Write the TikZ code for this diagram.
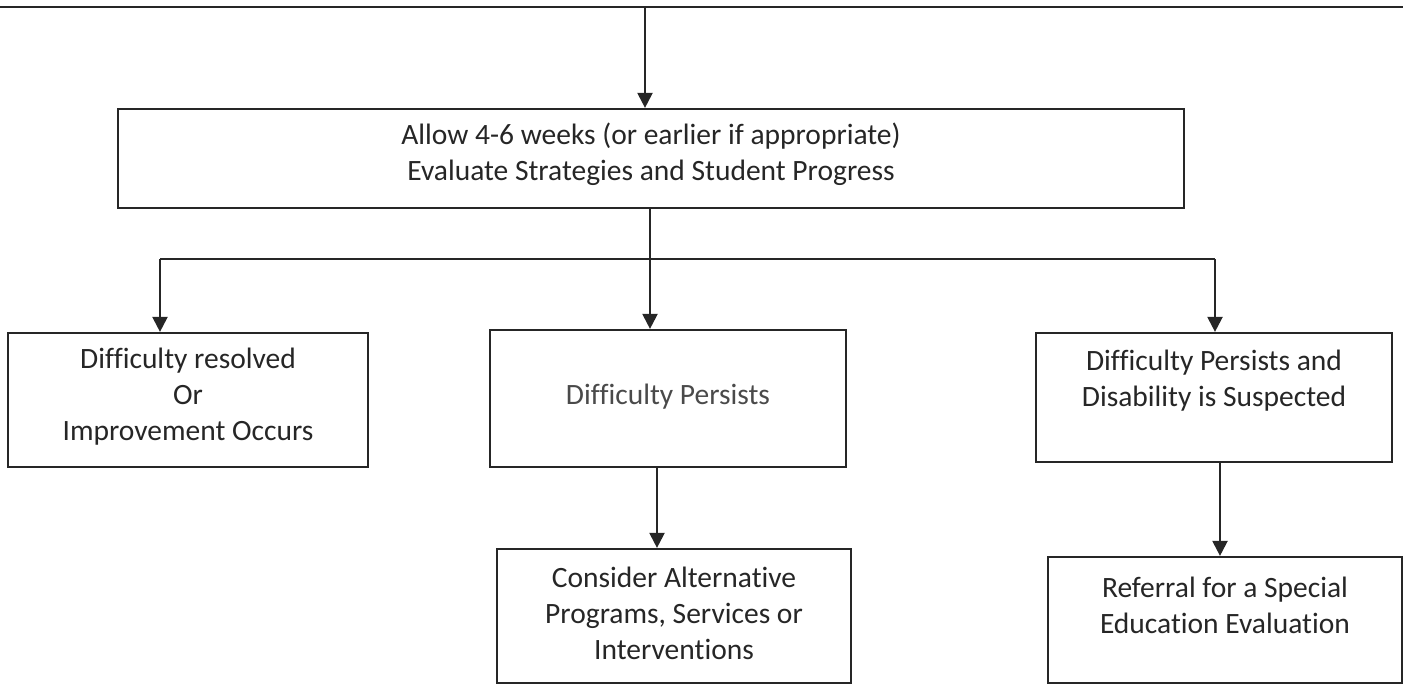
\documentclass[tikz,border=0pt]{standalone}
\usepackage{fontspec}
\setmainfont[Ligatures={NoCommon}]{Carlito}
\usetikzlibrary{arrows.meta}
\definecolor{ink}{HTML}{262626}
\definecolor{softink}{HTML}{4A4A4A}
\tikzset{
  box/.style={draw=ink, line width=2.2pt, rectangle, inner sep=0pt},
  txt/.style={align=center, text=ink, font=\fontsize{29.5}{36}\selectfont, inner sep=0pt},
  conn/.style={draw=ink, line width=2.2pt},
  arr/.style={conn, -{Triangle[width=15pt,length=15pt]}},
}
\begin{document}
\begin{tikzpicture}[x=1pt,y=-1pt]
\useasboundingbox (0,0) rectangle (1403,685);
% boxes
\node[box, minimum width=1066pt, minimum height=99pt] (main) at (651,158.5) {};
\node[box, minimum width=360pt, minimum height=134pt] (b1) at (188,400) {};
\node[box, minimum width=356pt, minimum height=137pt] (b2) at (668,398.5) {};
\node[box, minimum width=356pt, minimum height=129pt] (b3) at (1214,397.5) {};
\node[box, minimum width=354pt, minimum height=134pt] (b4) at (674,616) {};
\node[box, minimum width=354pt, minimum height=126pt] (b5) at (1225,620) {};
% texts
\node[txt] (t0) at (651,154) {Allow 4-6 weeks (or earlier if appropriate)\\Evaluate Strategies and Student Progress};
\node[txt] (t1) at (188,397) {Difficulty resolved\\Or\\Improvement Occurs};
\node[txt, text=softink] (t2) at (668,397) {Difficulty Persists};
\node[txt] (t3) at (1214,381) {Difficulty Persists and\\Disability is Suspected};
\node[txt] (t4) at (674,613) {Consider Alternative\\Programs, Services or\\Interventions};
\node[txt] (t5) at (1225,605) {Referral for a Special\\Education Evaluation};
% connectors
\coordinate (topL) at (0,7);
\coordinate (topR) at (1403,7);
\coordinate (top) at (645,7);
\coordinate (split) at (650,259);
\coordinate (leftc) at (160,259);
\coordinate (rightc) at (1215,259);
\draw[conn] (topL) -- (topR);
\draw[arr] (top) -- (top |- main.north);
\draw[conn] (split |- main.south) -- (split);
\draw[conn] (leftc) -- (rightc);
\draw[arr] (split) -- (split |- b2.north);
\draw[arr] (leftc) -- (leftc |- b1.north);
\draw[arr] (rightc) -- (rightc |- b3.north);
\coordinate (m24) at (657,0);
\coordinate (m35) at (1220,0);
\draw[arr] (m24 |- b2.south) -- (m24 |- b4.north);
\draw[arr] (m35 |- b3.south) -- (m35 |- b5.north);
\end{tikzpicture}
\end{document}
